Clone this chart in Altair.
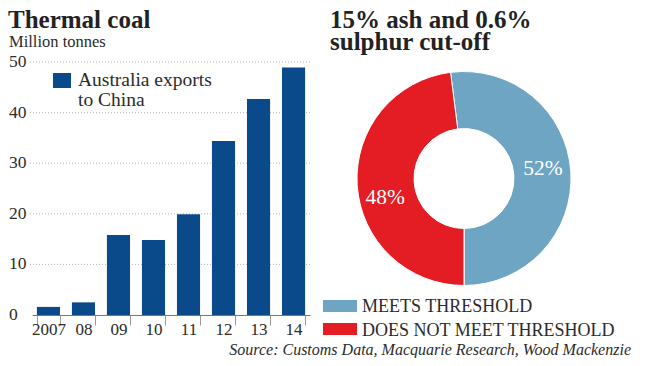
import math
import altair as alt
import pandas as pd

# ---- data ----
years = ["2007", "08", "09", "10", "11", "12", "13", "14"]
exports = [1.6, 2.5, 15.8, 14.8, 19.9, 34.4, 42.7, 48.9]
grid_values = [10, 20, 30, 40, 50]
y_tick_values = [0, 10, 20, 30, 40, 50]

pie_cats = ["MEETS THRESHOLD", "DOES NOT MEET THRESHOLD"]
pie_shares = [52, 48]
pie_labels = ["52%", "48%"]
pie_colors = ["#6ea5c3", "#e41d25"]

BAR_COLOR = "#0b4a8a"
FONT = "Liberation Serif"
TXT = "#2b2b2b"

bar_df = pd.DataFrame({"year": years, "value": exports})
grid_df = pd.DataFrame({"v": grid_values})
ytick_df = pd.DataFrame({"v": y_tick_values})
pie_df = pd.DataFrame({"cat": pie_cats, "share": pie_shares, "label": pie_labels})

yscale = alt.Scale(domain=[0, 50], range=[307, 54])

grid = alt.Chart(grid_df).mark_rule(color="#b5b5b5", strokeDash=[1, 2], strokeWidth=1).encode(
    x=alt.value(22), x2=alt.value(302),
    y=alt.Y("v:Q", scale=yscale, axis=None),
)

ylabels = alt.Chart(ytick_df).mark_text(
    align="left", baseline="middle", font=FONT, fontSize=17.5, color=TXT
).encode(
    x=alt.value(1),
    y=alt.Y("v:Q", scale=yscale, axis=None),
    text=alt.Text("v:Q"),
)

bars = alt.Chart(bar_df).mark_bar(color=BAR_COLOR).encode(
    x=alt.X(
        "year:N", sort=years, title=None,
        scale=alt.Scale(range=[24, 302], paddingInner=0.34, paddingOuter=0.14),
        axis=alt.Axis(
            offset=-43, domainColor="#777", domainWidth=1.2,
            ticks=True, tickBand="extent", tickSize=10, tickColor="#999",
            labelFont=FONT, labelFontSize=17, labelColor=TXT, labelPadding=-4,
            labelAngle=0, grid=False,
        ),
    ),
    y=alt.Y("value:Q", scale=yscale, axis=None),
)

theta_scale = alt.Scale(domain=[0, 100], range=[math.pi, 3 * math.pi])
color_scale = alt.Scale(domain=pie_cats, range=pie_colors)

arc = alt.Chart(pie_df).mark_arc(
    innerRadius=50, outerRadius=107, stroke="white", strokeWidth=1
).encode(
    theta=alt.Theta("share:Q", stack=True, scale=theta_scale),
    order=alt.Order("share:Q", sort="ascending"),
    color=alt.Color("cat:N", scale=color_scale, legend=None),
    x=alt.value(456), y=alt.value(170.5),
)


def arc_label(cat, dy):
    return alt.Chart(pie_df).transform_stack(
        stack="share", groupby=[], as_=["s0", "s1"], sort=[alt.SortField("share", order="ascending")]
    ).transform_calculate(
        mid="(datum.s0 + datum.s1) / 2"
    ).transform_filter(alt.datum.cat == cat).mark_text(
        radius=79, font=FONT, fontSize=21.5, color="white", align="center",
        baseline="middle", dy=dy
    ).encode(
        theta=alt.Theta("mid:Q", scale=theta_scale, stack=None),
        text="label:N",
        x=alt.value(456), y=alt.value(170.5),
    )


# pie legend
def leg_rect(cat, y):
    return alt.Chart(pie_df).transform_filter(alt.datum.cat == cat).mark_rect().encode(
        color=alt.Color("cat:N", scale=color_scale, legend=None),
        x=alt.value(315), x2=alt.value(349), y=alt.value(y), y2=alt.value(y + 12),
    )


def leg_text(cat, y):
    return alt.Chart(pie_df).transform_filter(alt.datum.cat == cat).mark_text(
        align="left", baseline="alphabetic", font=FONT, fontSize=18, color=TXT
    ).encode(text="cat:N", x=alt.value(354), y=alt.value(y))


one = alt.Data(values=[{}])


def label(text, x, y, size, weight="normal", style="normal", align="left", color=TXT,
          lh=None, baseline="alphabetic"):
    kw = dict(text=text, align=align, baseline=baseline, font=FONT, fontSize=size,
              fontWeight=weight, fontStyle=style, color=color)
    if lh is not None:
        kw["lineHeight"] = lh
    return alt.Chart(one).mark_text(**kw).encode(x=alt.value(x), y=alt.value(y))


bar_leg_rect = alt.Chart(one).mark_rect(color=BAR_COLOR).encode(
    x=alt.value(45), x2=alt.value(63), y=alt.value(65), y2=alt.value(80)
)

texts = [
    label("Thermal coal", 0, 0, 25, weight="bold", color="#222", baseline="top"),
    label("Million tonnes", 1, 39, 16.5),
    label(["Australia exports", "to China"], 70, 78, 19.5, lh=20),
    label(["15% ash and 0.6%", "sulphur cut-off"], 322, 0, 25, weight="bold", color="#222",
          lh=22, baseline="top"),
    label("Source: Customs Data, Macquarie Research, Wood Mackenzie", 623, 347, 16,
          style="italic", align="right"),
]

chart = alt.layer(
    grid, bars, ylabels, bar_leg_rect, arc,
    arc_label(pie_cats[0], -5), arc_label(pie_cats[1], 15),
    leg_rect(pie_cats[0], 292), leg_rect(pie_cats[1], 315),
    leg_text(pie_cats[0], 304), leg_text(pie_cats[1], 328),
    *texts
).properties(
    width=634, height=350, padding=0, autosize=alt.AutoSizeParams(type="none"),
    background="white",
).configure_view(stroke=None)

chart.save("out.html", embed_options={"renderer": "svg", "actions": False})
